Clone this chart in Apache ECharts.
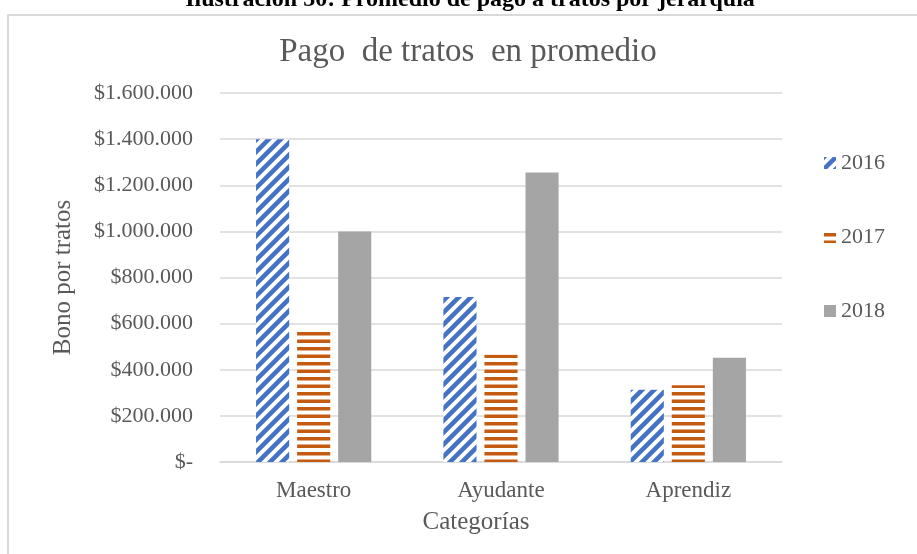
<!DOCTYPE html>
<html>
<head>
<meta charset="utf-8">
<script src="https://cdn.jsdelivr.net/npm/echarts@6/dist/echarts.min.js"></script>
<style>
  html, body { margin: 0; padding: 0; background: #fff; }
  #chart { width: 917px; height: 554px; }
</style>
</head>
<body>
<div id="chart"></div>
<script>
// Average payout per piecework by rank
const categories = ['Maestro', 'Ayudante', 'Aprendiz'];
const seriesNames = ['2016', '2017', '2018'];
const values2016 = [1400000, 715000, 313000];
const values2017 = [565000, 465000, 333000];
const values2018 = [1000000, 1255000, 452000];
const yTicks = [0, 200000, 400000, 600000, 800000, 1000000, 1200000, 1400000, 1600000];

const SERIF = 'Liberation Serif, Times New Roman, serif';
const TEXT = '#595959';

// Wide upward-diagonal stripes
function diagonalPattern(color) {
  const s = 12;
  const c = document.createElement('canvas');
  c.width = s; c.height = s;
  const g = c.getContext('2d');
  g.fillStyle = '#fff'; g.fillRect(0, 0, s, s);
  g.strokeStyle = color; g.lineWidth = 4.5;
  g.beginPath();
  g.moveTo(-3, s + 3); g.lineTo(s + 3, -3);
  g.moveTo(-3, 3); g.lineTo(3, -3);
  g.moveTo(s - 3, s + 3); g.lineTo(s + 3, s - 3);
  g.stroke();
  return c;
}
// Horizontal stripes, two per tile (period 7.5px)
function horizontalPattern(color) {
  const c = document.createElement('canvas');
  c.width = 4; c.height = 15;
  const g = c.getContext('2d');
  g.fillStyle = '#fff'; g.fillRect(0, 0, 4, 15);
  g.fillStyle = color;
  g.fillRect(0, 2, 4, 3.5);
  g.fillRect(0, 9.5, 4, 3.5);
  return c;
}

function money(v) {
  if (v === 0) return '$-';
  return '$' + v.toString().replace(/\B(?=(\d{3})+(?!\d))/g, '.');
}

const chart = echarts.init(document.getElementById('chart'), null, { renderer: 'canvas' });

const fills = [
  { image: diagonalPattern('#4472C4'), repeat: 'repeat' },
  { image: horizontalPattern('#C55A11'), repeat: 'repeat' },
  '#A5A5A5'
];
const dataSets = [values2016, values2017, values2018];

chart.setOption({
  animation: false,
  backgroundColor: '#fff',
  graphic: [
    {
      type: 'rect',
      shape: { x: 8, y: 15, width: 1000, height: 1000 },
      style: { fill: 'none', stroke: '#d9d9d9', lineWidth: 2 },
      z: -1
    },
    {
      type: 'text',
      x: 470, y: 12,
      style: {
        text: 'Ilustración 30: Promedio de pago a tratos por jerarquía',
        font: 'bold 24px ' + SERIF,
        fill: '#000',
        textAlign: 'center',
        textVerticalAlign: 'bottom'
      }
    }
  ],
  title: {
    text: 'Pago  de tratos  en promedio',
    left: 463,
    textAlign: 'center',
    top: 31,
    textStyle: { fontFamily: SERIF, fontSize: 33, fontWeight: 'normal', color: TEXT }
  },
  legend: {
    orient: 'vertical',
    left: 824,
    top: 152,
    padding: 0,
    itemWidth: 12,
    itemHeight: 12,
    itemGap: 52,
    icon: 'rect',
    data: seriesNames,
    textStyle: { fontFamily: SERIF, fontSize: 22, color: TEXT, padding: [0, 0, 0, 0] }
  },
  grid: { left: 220, right: 135, top: 93, bottom: 92, containLabel: false },
  xAxis: {
    type: 'category',
    data: categories,
    name: 'Categorías',
    nameLocation: 'middle',
    nameGap: 48,
    nameTextStyle: { fontFamily: SERIF, fontSize: 25, color: TEXT, padding: [0, 50, 0, 0] },
    axisLine: { lineStyle: { color: '#d9d9d9', width: 1.5 } },
    axisTick: { show: false },
    axisLabel: { fontFamily: SERIF, fontSize: 23, color: TEXT, margin: 17 }
  },
  yAxis: {
    type: 'value',
    min: yTicks[0],
    max: yTicks[yTicks.length - 1],
    interval: yTicks[1] - yTicks[0],
    name: 'Bono por tratos',
    nameLocation: 'middle',
    nameGap: 144,
    nameTextStyle: { fontFamily: SERIF, fontSize: 25, color: TEXT },
    axisLine: { show: false },
    axisTick: { show: false },
    splitLine: { lineStyle: { color: '#d9d9d9', width: 1.5 } },
    axisLabel: { fontFamily: SERIF, fontSize: 22, color: TEXT, margin: 27, formatter: money }
  },
  series: seriesNames.map((name, i) => ({
    name: name,
    type: 'bar',
    data: dataSets[i],
    barGap: '24%',
    barCategoryGap: '38.5%',
    itemStyle: { color: fills[i] }
  }))
});
</script>
</body>
</html>
